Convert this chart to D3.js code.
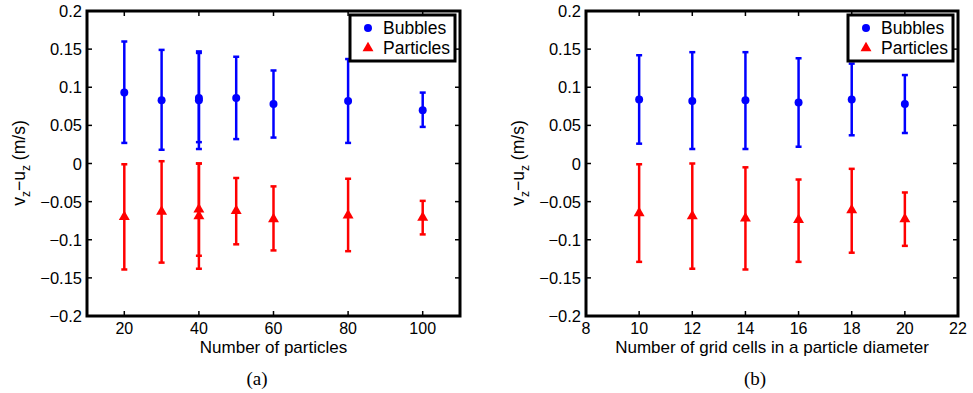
<!DOCTYPE html>
<html>
<head>
<meta charset="utf-8">
<script src="https://cdnjs.cloudflare.com/ajax/libs/d3/7.8.5/d3.min.js"></script>
<style>
  body { margin: 0; background: #fff; }
  svg { display: block; }
</style>
</head>
<body>
<script>
// panel (a): number of particles
const particleCounts = [20, 30, 40, 40, 50, 60, 80, 100];
const bubblesMeanA = [0.093, 0.083, 0.086, 0.083, 0.086, 0.078, 0.082, 0.070];
const bubblesUpA   = [0.160, 0.149, 0.147, 0.145, 0.140, 0.122, 0.137, 0.093];
const bubblesLowA  = [0.027, 0.018, 0.028, 0.019, 0.032, 0.034, 0.027, 0.048];
const particlesMeanA = [-0.070, -0.063, -0.060, -0.069, -0.062, -0.073, -0.068, -0.071];
const particlesUpA   = [-0.001, 0.003, 0.000, 0.000, -0.019, -0.030, -0.020, -0.049];
const particlesLowA  = [-0.139, -0.130, -0.121, -0.138, -0.106, -0.114, -0.115, -0.093];

// panel (b): grid cells per particle diameter
const gridCells = [10, 12, 14, 16, 18, 20];
const bubblesMeanB = [0.084, 0.082, 0.083, 0.080, 0.084, 0.078];
const bubblesUpB   = [0.142, 0.146, 0.146, 0.138, 0.131, 0.116];
const bubblesLowB  = [0.026, 0.019, 0.019, 0.022, 0.037, 0.040];
const particlesMeanB = [-0.065, -0.069, -0.072, -0.074, -0.061, -0.073];
const particlesUpB   = [-0.001, 0.000, -0.005, -0.021, -0.007, -0.038];
const particlesLowB  = [-0.129, -0.138, -0.139, -0.129, -0.117, -0.108];

const yTicks = [0.2, 0.15, 0.1, 0.05, 0, -0.05, -0.1, -0.15, -0.2];
const xTicksA = [20, 40, 60, 80, 100];
const xTicksB = [8, 10, 12, 14, 16, 18, 20, 22];
const legendNames = ['Bubbles', 'Particles'];

const W = 973, H = 393;
const font = '"Liberation Sans", Arial, Helvetica, sans-serif';

const svg = d3.select('body').append('svg')
    .attr('width', W)
    .attr('height', H);

const fmt = v => (v < 0 ? '\u2212' : '') + String(Math.abs(v));

function drawPanel(opt) {
    var x = d3.scaleLinear().domain(opt.xDomain).range([opt.left, opt.right]);
    var y = d3.scaleLinear().domain([-0.2, 0.2]).range([316, 11]);

    const g = svg.append('g');

    // ticks (inside, all four sides)
    const tl = 5;
    opt.xTicks.forEach(t => {
        g.append('line').attr('x1', x(t)).attr('x2', x(t)).attr('y1', y(-0.2)).attr('y2', y(-0.2) - tl)
            .attr('stroke', '#000').attr('stroke-width', 1.5);
        g.append('line').attr('x1', x(t)).attr('x2', x(t)).attr('y1', y(0.2)).attr('y2', y(0.2) + tl)
            .attr('stroke', '#000').attr('stroke-width', 1.5);
    });
    yTicks.forEach(t => {
        g.append('line').attr('x1', opt.left).attr('x2', opt.left + tl).attr('y1', y(t)).attr('y2', y(t))
            .attr('stroke', '#000').attr('stroke-width', 1.5);
        g.append('line').attr('x1', opt.right).attr('x2', opt.right - tl).attr('y1', y(t)).attr('y2', y(t))
            .attr('stroke', '#000').attr('stroke-width', 1.5);
    });

    // tick labels
    g.append('g').selectAll('text')
        .data(yTicks)
        .enter()
        .append('text')
            .attr('x', opt.left - 5)
            .attr('y', d => y(d) + 6)
            .attr('text-anchor', 'end')
            .attr('font-family', font)
            .attr('font-size', 16.5)
            .text(d => fmt(d));

    g.append('g').selectAll('text')
        .data(opt.xTicks)
        .enter()
        .append('text')
            .attr('x', d => x(d))
            .attr('y', 334)
            .attr('text-anchor', 'middle')
            .attr('font-family', font)
            .attr('font-size', 16)
            .text(d => d);

    // axis labels
    g.append('text')
        .attr('x', (opt.left + opt.right) / 2)
        .attr('y', 353)
        .attr('text-anchor', 'middle')
        .attr('font-family', font)
        .attr('font-size', 17)
        .text(opt.xLabel);

    const yl = g.append('text')
        .attr('transform', 'translate(' + (opt.left - 62) + ',163) rotate(-90)')
        .attr('text-anchor', 'middle')
        .attr('font-family', font)
        .attr('font-size', 17.5);
    yl.append('tspan').text('v');
    yl.append('tspan').attr('dy', 5).attr('font-size', 12).text('z');
    yl.append('tspan').attr('dy', -5).text('\u2212u');
    yl.append('tspan').attr('dy', 5).attr('font-size', 12).text('z');
    yl.append('tspan').attr('dy', -5).text(' (m/s)');

    // caption
    g.append('text')
        .attr('x', opt.captionX)
        .attr('y', 385)
        .attr('text-anchor', 'middle')
        .attr('font-family', '"Liberation Serif", "Times New Roman", serif')
        .attr('font-size', 19)
        .text(opt.caption);

    // error bars
    const series = [
        { mean: opt.bMean, up: opt.bUp, low: opt.bLow, color: '#0000ff', sym: d3.symbolCircle, size: 50 },
        { mean: opt.pMean, up: opt.pUp, low: opt.pLow, color: '#ff0000', sym: d3.symbolTriangle, size: 52 }
    ];
    series.forEach(s => {
        const rows = opt.xs.map((xv, i) => ({ x: xv, m: s.mean[i], u: s.up[i], l: s.low[i] }));
        const sg = g.append('g');
        sg.selectAll('line.bar').data(rows).enter().append('line')
            .attr('x1', d => x(d.x)).attr('x2', d => x(d.x))
            .attr('y1', d => y(d.u)).attr('y2', d => y(d.l))
            .attr('stroke', s.color).attr('stroke-width', 2.5);
        sg.selectAll('line.capu').data(rows).enter().append('line')
            .attr('x1', d => x(d.x) - 3).attr('x2', d => x(d.x) + 3)
            .attr('y1', d => y(d.u)).attr('y2', d => y(d.u))
            .attr('stroke', s.color).attr('stroke-width', 2.5);
        sg.selectAll('line.capl').data(rows).enter().append('line')
            .attr('x1', d => x(d.x) - 3).attr('x2', d => x(d.x) + 3)
            .attr('y1', d => y(d.l)).attr('y2', d => y(d.l))
            .attr('stroke', s.color).attr('stroke-width', 2.5);
        sg.selectAll('path').data(rows).enter().append('path')
            .attr('d', d3.symbol().type(s.sym).size(s.size))
            .attr('transform', d => 'translate(' + x(d.x) + ',' + y(d.m) + ')')
            .attr('fill', s.color);
    });

    // box
    g.append('rect')
        .attr('x', opt.left).attr('y', y(0.2))
        .attr('width', opt.right - opt.left).attr('height', y(-0.2) - y(0.2))
        .attr('fill', 'none').attr('stroke', '#000').attr('stroke-width', 3);

    // legend
    const lx = opt.right - 110, ly = 15;
    g.append('rect')
        .attr('x', lx).attr('y', ly).attr('width', 105).attr('height', 46)
        .attr('fill', '#fff').attr('stroke', '#000').attr('stroke-width', 3);
    legendNames.forEach((name, i) => {
        const ry = ly + 13 + i * 20;
        g.append('path')
            .attr('d', d3.symbol().type(series[i].sym).size(series[i].size))
            .attr('transform', 'translate(' + (lx + 18) + ',' + ry + ')')
            .attr('fill', series[i].color);
        g.append('text')
            .attr('x', lx + 33).attr('y', ry + 6)
            .attr('font-family', font).attr('font-size', 17.5)
            .text(name);
    });
}

drawPanel({
    left: 87, right: 460, xDomain: [10, 110], xTicks: xTicksA,
    xLabel: 'Number of particles', caption: '(a)', captionX: 257,
    xs: particleCounts,
    bMean: bubblesMeanA, bUp: bubblesUpA, bLow: bubblesLowA,
    pMean: particlesMeanA, pUp: particlesUpA, pLow: particlesLowA
});

drawPanel({
    left: 586, right: 958, xDomain: [8, 22], xTicks: xTicksB,
    xLabel: 'Number of grid cells in a particle diameter', caption: '(b)', captionX: 755,
    xs: gridCells,
    bMean: bubblesMeanB, bUp: bubblesUpB, bLow: bubblesLowB,
    pMean: particlesMeanB, pUp: particlesUpB, pLow: particlesLowB
});
</script>
</body>
</html>
